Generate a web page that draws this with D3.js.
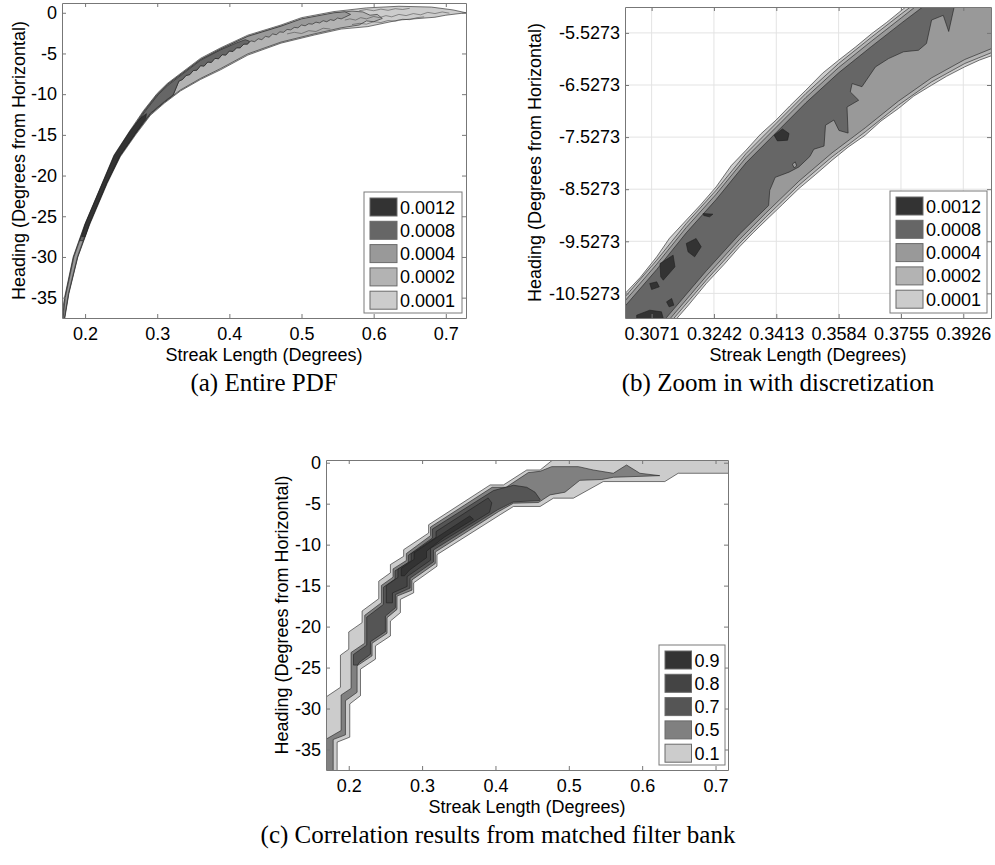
<!DOCTYPE html>
<html>
  <head>
    <meta http-equiv="Content-Type" content="text/html;charset=utf-8" />
    <title>Streak length vs heading contour plots</title>
    <script type="text/javascript" src="https://d3js.org/d3.v7.min.js"></script>
    <style>
      body { margin: 0; background: #fff; }
      svg text { font-family: "Liberation Sans", Arial, sans-serif; fill: #000; }
      svg text.caption { font-family: "Liberation Serif", "Times New Roman", serif; }
    </style>
  </head>
  <body>
    <div id="figure"></div>

    <script type="text/javascript">
      // ---- legend levels / colours
      const pdfLevels = ["0.0012", "0.0008", "0.0004", "0.0002", "0.0001"];
      const pdfColors = ["#333333", "#666666", "#999999", "#b3b3b3", "#cccccc"];
      const corrLevels = ["0.9", "0.8", "0.7", "0.5", "0.1"];
      const corrColors = ["#333333", "#444444", "#555555", "#808080", "#cccccc"];

      // ---- tick values
      const fullXTicks = [0.2, 0.3, 0.4, 0.5, 0.6, 0.7];
      const fullYTicks = [0, -5, -10, -15, -20, -25, -30, -35];
      const zoomXTicks = [0.3071, 0.3242, 0.3413, 0.3584, 0.3755, 0.3926];
      const zoomYTicks = [-5.5273, -6.5273, -7.5273, -8.5273, -9.5273, -10.5273];

      // ---- (a) entire PDF, contour regions [streak length, heading]
      const pdfBand0001 = [
        [0.165, -38], [0.168, -37], [0.1715, -35], [0.1835, -30], [0.1995, -26], [0.221, -21.5],
        [0.24, -17.5], [0.262, -14.5], [0.2812, -12], [0.3, -9.9], [0.3138, -8.7], [0.36, -5.6], [0.388, -4.3],
        [0.4256, -2.75], [0.4716, -1.5], [0.5, -0.6], [0.545, 0.15], [0.59, 0.6], [0.635, 0.8],
        [0.68, 0.7], [0.71, 0.35], [0.728, 0],
        [0.7, -0.3], [0.685, -0.55], [0.6345, -0.9], [0.592, -1.7], [0.555, -2.0], [0.5175, -2.74],
        [0.4716, -3.73], [0.4256, -5.2], [0.388, -7.0], [0.36, -8.2], [0.3323, -9.6], [0.31, -11.1],
        [0.2905, -12.6], [0.27, -15], [0.2487, -17.7], [0.2305, -21], [0.2065, -26], [0.19, -30],
        [0.1775, -34.5], [0.171, -38]
      ];
      const pdfBand0002 = [
        [0.168, -38], [0.172, -35], [0.184, -30], [0.2, -26], [0.2215, -21.5], [0.2405, -17.6],
        [0.2625, -14.6], [0.2815, -12.1], [0.3, -10.0], [0.314, -8.8], [0.36, -5.75], [0.388, -4.45], [0.4256, -2.9],
        [0.4716, -1.65], [0.5, -0.8], [0.545, -0.05], [0.57, 0.2], [0.585, 0.1], [0.595, -0.3],
        [0.605, -0.2], [0.612, -0.7], [0.6, -1.1], [0.59, -1.0], [0.58, -1.5], [0.555, -1.85],
        [0.5175, -2.6], [0.4716, -3.6], [0.4256, -5.05], [0.388, -6.85], [0.36, -8.07], [0.3323, -9.48],
        [0.31, -10.97], [0.2905, -12.45], [0.27, -14.85], [0.2487, -17.55], [0.2303, -20.9],
        [0.2062, -25.9], [0.1897, -30], [0.1772, -34.5], [0.1706, -38]
      ];
      const pdfBand0004 = [
        [0.169, -38], [0.1725, -35], [0.1845, -30], [0.2005, -26], [0.222, -21.5], [0.241, -17.6],
        [0.263, -14.6], [0.282, -12.1], [0.3005, -10.05], [0.3145, -8.8], [0.36, -5.75], [0.388, -4.45], [0.4256, -2.9],
        [0.4716, -1.65], [0.5, -0.75], [0.545, 0.0], [0.56, 0.12], [0.568, -0.2],
        [0.56, -0.55], [0.555, -0.75], [0.55, -0.65], [0.545, -0.95], [0.54, -0.85], [0.535, -1.1],
        [0.53, -0.98], [0.525, -1.25], [0.52, -1.15], [0.515, -1.4], [0.51, -1.35], [0.505, -1.6],
        [0.5, -1.5], [0.495, -1.85], [0.49, -1.8], [0.485, -2.1], [0.48, -2.05], [0.475, -2.4],
        [0.47, -2.35], [0.465, -2.7], [0.46, -2.6], [0.455, -3.0], [0.45, -2.9], [0.445, -3.3],
        [0.44, -3.2], [0.435, -3.55], [0.43, -3.45], [0.425, -3.85], [0.42, -3.85], [0.415, -4.3],
        [0.41, -4.3], [0.405, -4.75], [0.4, -4.7], [0.395, -5.2], [0.39, -5.15], [0.385, -5.65],
        [0.38, -5.6], [0.375, -6.1], [0.37, -6.05], [0.365, -6.55], [0.36, -6.5], [0.355, -7.05],
        [0.35, -7.1], [0.345, -7.6], [0.34, -7.7], [0.335, -8.2], [0.33, -8.4],
        [0.322, -10.15], [0.31, -10.97], [0.2905, -12.42], [0.27, -14.82], [0.2487, -17.5], [0.2303, -20.85],
        [0.206, -25.85], [0.1893, -30], [0.1769, -34.5], [0.1703, -38]
      ];
      const pdfBand0008 = [
        [0.1925, -28], [0.2009, -26], [0.2224, -21.5], [0.2414, -17.7], [0.2634, -14.7],
        [0.2824, -12.2], [0.301, -10.1], [0.315, -8.9], [0.36, -5.85], [0.388, -4.55], [0.41, -3.7], [0.422, -3.3],
        [0.428, -3.5], [0.425, -3.85], [0.42, -3.85], [0.415, -4.3], [0.41, -4.3], [0.405, -4.75],
        [0.4, -4.7], [0.395, -5.2], [0.39, -5.15], [0.385, -5.65], [0.38, -5.6], [0.375, -6.1],
        [0.37, -6.05], [0.365, -6.55], [0.36, -6.5], [0.355, -7.05], [0.35, -7.1], [0.345, -7.6],
        [0.34, -7.7], [0.335, -8.2], [0.33, -8.4],
        [0.322, -10.1], [0.31, -10.9], [0.2905, -12.35], [0.27, -14.75], [0.2487, -17.45], [0.2302, -20.8],
        [0.2058, -25.8], [0.1975, -28]
      ];
      const pdfBand0012 = [
        [0.1955, -27.5], [0.2, -26], [0.2215, -21.5], [0.2405, -17.5], [0.2625, -14.5],
        [0.276, -13.0], [0.285, -12.4], [0.284, -13.0], [0.2685, -15], [0.2475, -17.7],
        [0.2295, -21], [0.2058, -26], [0.2, -27.5]
      ];
      // small noisy contour lines in the light right-hand part
      const pdfNoise = [
        [[0.56, -0.9], [0.567, -0.75], [0.575, -0.9], [0.582, -0.6], [0.59, -0.75], [0.6, -0.45],
         [0.608, -0.6], [0.617, -0.35], [0.625, -0.5], [0.635, -0.2], [0.645, -0.35], [0.655, -0.1],
         [0.665, -0.25], [0.675, 0.05], [0.685, -0.1], [0.695, 0.1], [0.705, -0.05]],
        [[0.57, -1.45], [0.58, -1.3], [0.59, -1.4], [0.6, -1.1], [0.61, -1.2], [0.62, -0.95],
         [0.63, -1.05], [0.64, -0.8], [0.65, -0.85], [0.66, -0.6], [0.67, -0.5]],
        [[0.58, 0.25], [0.59, 0.4], [0.6, 0.25], [0.61, 0.45], [0.62, 0.3], [0.63, 0.5], [0.64, 0.4],
         [0.65, 0.55]],
        [[0.48, -2.6], [0.49, -2.4], [0.5, -2.55], [0.51, -2.2], [0.52, -2.3], [0.53, -1.9], [0.54, -2.0]]
      ];

      // ---- (b) zoom with discretization
      const zoomBand0001 = [
        [0.29, -11.3], [0.2957, -10.978], [0.2998, -10.53], [0.304, -10.22], [0.3085, -9.826],
        [0.312, -9.47], [0.3166, -9.122], [0.3205, -8.83], [0.3248, -8.483], [0.329, -8.07],
        [0.333, -7.779], [0.337, -7.47], [0.3412, -7.203], [0.345, -6.93], [0.3494, -6.627],
        [0.354, -6.3], [0.3584, -6.051], [0.363, -5.8], [0.3675, -5.54], [0.3715, -5.33],
        [0.3757, -5.092], [0.3803, -4.836], [0.41, -4.8],
        [0.402, -5.923], [0.397, -6.05], [0.393, -6.179], [0.388, -6.36], [0.3839, -6.531],
        [0.379, -6.74], [0.3748, -6.979], [0.37, -7.22], [0.3657, -7.491], [0.361, -7.72],
        [0.3566, -7.971], [0.352, -8.25], [0.3475, -8.515], [0.343, -8.82], [0.3385, -9.122],
        [0.335, -9.36], [0.3312, -9.634], [0.327, -9.97], [0.3221, -10.338], [0.317, -10.77],
        [0.3112, -11.234]
      ];
      const zoomBand0002 = [
        [0.29, -11.35], [0.2957, -11.042], [0.2998, -10.594], [0.3085, -9.89], [0.3166, -9.186],
        [0.3248, -8.547], [0.333, -7.843], [0.3412, -7.267], [0.3494, -6.691], [0.3584, -6.115],
        [0.3675, -5.604], [0.3757, -5.156], [0.3825, -4.8], [0.41, -4.8],
        [0.402, -5.859], [0.393, -6.115], [0.3839, -6.467], [0.3748, -6.915], [0.3657, -7.427],
        [0.3566, -7.907], [0.3475, -8.451], [0.3385, -9.058], [0.3312, -9.57], [0.3221, -10.274],
        [0.3112, -11.17], [0.309, -11.35]
      ];
      const zoomBand0004 = [
        [0.29, -11.4], [0.2957, -11.119], [0.2998, -10.671], [0.3085, -9.967], [0.3166, -9.263],
        [0.3248, -8.624], [0.333, -7.92], [0.3412, -7.344], [0.3494, -6.768], [0.3584, -6.192],
        [0.3675, -5.681], [0.3757, -5.233], [0.3835, -4.8], [0.41, -4.8],
        [0.402, -5.782], [0.393, -6.038], [0.3839, -6.39], [0.3748, -6.838], [0.3657, -7.35],
        [0.3566, -7.83], [0.3475, -8.374], [0.3385, -8.981], [0.3312, -9.493], [0.3221, -10.197],
        [0.3112, -11.093], [0.308, -11.4]
      ];
      const zoomBand0008 = [
        [0.29, -11.5], [0.2957, -11.221], [0.2998, -10.773], [0.3085, -10.069], [0.3166, -9.365],
        [0.3248, -8.726], [0.333, -8.022], [0.3412, -7.446], [0.3494, -6.87], [0.3584, -6.294],
        [0.3675, -5.783], [0.3757, -5.335], [0.3827, -4.964], [0.3846, -4.8],
        [0.3921, -4.8], [0.3901, -5.03], [0.3886, -5.5], [0.3871, -5.19], [0.3839, -5.28],
        [0.3825, -5.73], [0.3803, -5.86], [0.3762, -5.89], [0.3721, -6.02], [0.3685, -6.18],
        [0.3648, -6.56], [0.3621, -6.5], [0.3616, -6.66], [0.3639, -6.82], [0.3607, -6.95],
        [0.361, -7.45], [0.3585, -7.4], [0.3571, -7.2], [0.3548, -7.3], [0.3544, -7.7],
        [0.3516, -7.76], [0.3505, -7.9], [0.3475, -8.1], [0.3448, -8.2], [0.341, -8.3],
        [0.3395, -8.55], [0.3392, -8.84],
        [0.3312, -9.391], [0.3221, -10.095], [0.3112, -10.991], [0.307, -11.5]
      ];
      const zoomIslands0004 = [
        [[0.3457, -8.047], [0.3465, -8.003], [0.3469, -8.08], [0.3462, -8.118]]
      ];
      const zoomBlobs0012 = [
        [[0.3407, -7.491], [0.343, -7.37], [0.3448, -7.459], [0.3444, -7.587], [0.3416, -7.6]],
        [[0.3212, -8.994], [0.3239, -9.007], [0.323, -9.058], [0.3214, -9.033]],
        [[0.3166, -9.57], [0.3193, -9.474], [0.3207, -9.634], [0.3189, -9.826], [0.3171, -9.73]],
        [[0.3094, -9.954], [0.313, -9.794], [0.3135, -10.018], [0.3103, -10.274], [0.3096, -10.21]],
        [[0.3066, -10.338], [0.3085, -10.306], [0.3092, -10.402], [0.3071, -10.453]],
        [[0.3112, -10.69], [0.3126, -10.626], [0.3132, -10.754], [0.3119, -10.786]],
        [[0.303, -10.946], [0.3066, -10.85], [0.3098, -10.882], [0.3103, -11.01], [0.303, -11.042]]
      ];

      // ---- (c) correlation results from matched filter bank
      const corrBand01 = [
        [0.1615, -38], [0.1615, -29.04], [0.1887, -27.41], [0.1887, -23.49], [0.2, -22.76], [0.2, -20.65],
        [0.2182, -19.52], [0.2182, -18.1], [0.2409, -16.6], [0.2409, -14.46], [0.2568, -13.44],
        [0.2568, -12.43], [0.2749, -11.42], [0.2749, -10.61], [0.3089, -8.58], [0.3089, -7.57],
        [0.3928, -2.71], [0.411, -2.71], [0.4427, -0.89], [0.4609, -0.89], [0.479, 0.41], [0.479, 1.2],
        [0.73, 1.2], [0.73, -1.29], [0.6491, -1.29], [0.6309, -2.3], [0.547, -2.3], [0.5062, -4.33],
        [0.479, -4.33], [0.4609, -5.34], [0.4246, -5.34], [0.4064, -6.35], [0.3203, -11.22],
        [0.3203, -12.63], [0.2885, -14.66], [0.2885, -15.87], [0.2704, -16.68], [0.2704, -18.3],
        [0.2568, -19.32], [0.2568, -21.14], [0.2364, -22.35], [0.2364, -23.97], [0.216, -25.19],
        [0.216, -28.43], [0.2014, -29.44], [0.2014, -33.49], [0.1842, -34.1], [0.1842, -38]
      ];
      const corrBand05 = [
        [0.166, -38], [0.166, -33.9], [0.1896, -32.68], [0.1896, -28.35], [0.2032, -27.54],
        [0.2032, -23.16], [0.2218, -22.03], [0.2218, -18.63], [0.2445, -17.09], [0.2445, -14.98],
        [0.2604, -13.97], [0.2604, -12.96], [0.2785, -11.94], [0.2785, -11.09], [0.3115, -8.9],
        [0.3115, -7.85], [0.3955, -3.0], [0.4145, -3.0], [0.4449, -1.2], [0.4609, -1.05],
        [0.4767, -0.48], [0.513, -0.48], [0.5334, -0.89], [0.5607, -1.29], [0.5787, -0.28],
        [0.5969, -1.29], [0.624, -1.58],
        [0.5607, -1.78], [0.545, -2.05], [0.515, -2.15], [0.4948, -3.6], [0.4744, -3.93],
        [0.4586, -4.86], [0.4246, -4.94], [0.4045, -5.95], [0.318, -10.9], [0.318, -12.3],
        [0.2862, -14.3], [0.2862, -15.55], [0.2658, -16.28], [0.2658, -17.9], [0.2522, -18.91],
        [0.2522, -20.81], [0.2318, -22.03], [0.2318, -23.57], [0.2114, -24.78], [0.2114, -28.02],
        [0.1955, -29.04], [0.1955, -33.21], [0.1788, -33.78], [0.1788, -38]
      ];
      const corrBand07 = [
        [0.2065, -24.7], [0.2065, -23.4], [0.2245, -22.25], [0.2245, -18.85], [0.2472, -17.3],
        [0.2472, -15.2], [0.2631, -14.2], [0.2631, -13.2], [0.2812, -12.17], [0.2812, -11.3],
        [0.314, -9.2], [0.314, -8.1], [0.3973, -3.4], [0.4246, -2.75], [0.4427, -3.0],
        [0.454, -3.6], [0.4609, -4.5],
        [0.46, -4.62], [0.4246, -4.78], [0.4028, -5.75], [0.3155, -10.65], [0.3155, -12.1],
        [0.2836, -14.1], [0.2836, -15.3], [0.2636, -16.1], [0.2636, -17.7], [0.25, -18.72],
        [0.25, -20.62], [0.2296, -21.84], [0.2296, -23.38], [0.214, -24.4], [0.212, -24.7]
      ];
      const corrBand08 = [
        [0.2512, -17.1], [0.2512, -15.0], [0.2671, -14.0], [0.2671, -13.0], [0.2852, -11.95],
        [0.2852, -11.1], [0.319, -9.1], [0.319, -8.4], [0.39, -4.3], [0.395, -4.9], [0.392, -6.05],
        [0.3115, -10.45], [0.3115, -11.9], [0.2796, -13.9], [0.2796, -15.1], [0.2596, -15.9],
        [0.2596, -17.1]
      ];
      const corrBand09 = [
        [[0.2715, -13.8], [0.2715, -12.9], [0.289, -11.8], [0.289, -11.0], [0.322, -9.0],
         [0.365, -6.5], [0.37, -6.9], [0.33, -9.1], [0.306, -10.8], [0.306, -11.6], [0.283, -13.1],
         [0.276, -13.8]]
      ];

      var svg = d3
        .select("#figure")
        .append("svg")
        .attr("width", 995)
        .attr("height", 865);

      var contourLine = d3.line();

      function drawPanel(p) {
        var f = p.frame;
        var x = d3.scaleLinear().domain(p.xDomain).range([f.left, f.right]);
        var y = d3.scaleLinear().domain(p.yDomain).range([f.bottom, f.top]);
        contourLine.x(d => x(d[0])).y(d => y(d[1]));

        svg
          .append("clipPath")
          .attr("id", p.id + "-clip")
          .append("rect")
          .attr("x", f.left)
          .attr("y", f.top)
          .attr("width", f.right - f.left)
          .attr("height", f.bottom - f.top);

        var g = svg.append("g").attr("class", p.id);

        // light grid (zoomed panel only)
        if (p.grid) {
          g.selectAll(".gx")
            .data(p.xTicks)
            .join("line")
            .attr("x1", d => x(d)).attr("x2", d => x(d))
            .attr("y1", f.top).attr("y2", f.bottom)
            .attr("stroke", "#e3e3e3");
          g.selectAll(".gy")
            .data(p.yTicks)
            .join("line")
            .attr("y1", d => y(d)).attr("y2", d => y(d))
            .attr("x1", f.left).attr("x2", f.right)
            .attr("stroke", "#e3e3e3");
        }

        var plot = g.append("g").attr("clip-path", "url(#" + p.id + "-clip)");
        p.layers.forEach(layer => {
          layer.polys.forEach(poly => {
            plot
              .append("path")
              .attr("d", contourLine(poly) + "Z")
              .attr("fill", layer.color)
              .attr("stroke", "#1e1e1e")
              .attr("stroke-width", 0.6)
              .attr("stroke-linejoin", "round");
          });
        });
        (p.lines || []).forEach(l => {
          plot
            .append("path")
            .attr("d", contourLine(l))
            .attr("fill", "none")
            .attr("stroke", "#3a3a3a")
            .attr("stroke-width", 0.5);
        });

        // axes, ticks pointing inwards on all four sides
        var fmt = d => String(d);
        var axes = [
          { ax: d3.axisBottom(x).tickValues(p.xTicks).tickFormat(fmt).tickPadding(9), t: "translate(0," + f.bottom + ")" },
          { ax: d3.axisTop(x).tickValues(p.xTicks).tickFormat(""), t: "translate(0," + f.top + ")" },
          { ax: d3.axisLeft(y).tickValues(p.yTicks).tickFormat(fmt).tickPadding(5), t: "translate(" + f.left + ",0)" },
          { ax: d3.axisRight(y).tickValues(p.yTicks).tickFormat(""), t: "translate(" + f.right + ",0)" }
        ];
        axes.forEach(a => {
          var ag = g
            .append("g")
            .attr("transform", a.t)
            .call(a.ax.tickSizeInner(-4).tickSizeOuter(0));
          ag.select(".domain").attr("stroke", "#777");
          ag.selectAll(".tick line").attr("stroke", "#777");
          ag.selectAll("text")
            .attr("font-family", "Liberation Sans, Arial, sans-serif")
            .attr("font-size", 18)
            .attr("fill", "#000");
        });

        // axis titles
        g.append("text")
          .attr("x", (f.left + f.right) / 2)
          .attr("y", f.bottom + 43)
          .attr("text-anchor", "middle")
          .attr("font-size", 18)
          .text("Streak Length (Degrees)");
        g.append("text")
          .attr("transform", "translate(" + p.yTitleX + "," + (f.top + f.bottom) / 2 + ") rotate(-90)")
          .attr("text-anchor", "middle")
          .attr("font-size", 18)
          .text("Heading (Degrees from Horizontal)");

        // legend
        var lg = p.legend;
        var leg = g.append("g");
        leg.append("rect")
          .attr("x", lg.x).attr("y", lg.y)
          .attr("width", lg.w).attr("height", lg.h)
          .attr("fill", "#fff")
          .attr("stroke", "#7a7a7a");
        lg.labels.forEach((lab, i) => {
          var top = lg.y + 6 + i * 23.3;
          leg.append("rect")
            .attr("x", lg.x + 6).attr("y", top)
            .attr("width", lg.sw).attr("height", 18)
            .attr("fill", lg.colors[i])
            .attr("stroke", "#6a6a6a");
          leg.append("text")
            .attr("x", lg.x + 9 + lg.sw)
            .attr("y", top + 15.5)
            .attr("font-size", 18)
            .text(lab);
        });

        // caption
        svg.append("text")
          .attr("class", "caption")
          .attr("x", p.caption.x)
          .attr("y", p.caption.y)
          .attr("text-anchor", "middle")
          .attr("font-size", 25)
          .text(p.caption.text);
      }

      drawPanel({
        id: "pdf",
        frame: { left: 62, right: 466, top: 3, bottom: 318 },
        xDomain: [0.168, 0.728],
        yDomain: [-37.5, 1.2],
        xTicks: fullXTicks,
        yTicks: fullYTicks,
        layers: [
          { color: pdfColors[4], polys: [pdfBand0001] },
          { color: pdfColors[3], polys: [pdfBand0002] },
          { color: pdfColors[2], polys: [pdfBand0004] },
          { color: pdfColors[1], polys: [pdfBand0008] },
          { color: pdfColors[0], polys: [pdfBand0012] }
        ],
        lines: pdfNoise,
        yTitleX: 25,
        legend: { x: 364, y: 192, w: 98, h: 121, sw: 27, labels: pdfLevels, colors: pdfColors },
        caption: { x: 264, y: 391, text: "(a) Entire PDF" }
      });

      drawPanel({
        id: "zoom",
        frame: { left: 625, right: 991, top: 7, bottom: 318 },
        xDomain: [0.2998, 0.4002],
        yDomain: [-11.0, -5.03],
        xTicks: zoomXTicks,
        yTicks: zoomYTicks,
        grid: true,
        layers: [
          { color: pdfColors[4], polys: [zoomBand0001] },
          { color: pdfColors[3], polys: [zoomBand0002] },
          { color: pdfColors[2], polys: [zoomBand0004] },
          { color: pdfColors[1], polys: [zoomBand0008] },
          { color: pdfColors[2], polys: zoomIslands0004 },
          { color: pdfColors[0], polys: zoomBlobs0012 }
        ],
        yTitleX: 541,
        legend: { x: 890, y: 191, w: 97, h: 122, sw: 27, labels: pdfLevels, colors: pdfColors },
        caption: { x: 778, y: 391, text: "(b) Zoom in with discretization" }
      });

      drawPanel({
        id: "corr",
        frame: { left: 326, right: 728, top: 460, bottom: 770 },
        xDomain: [0.169, 0.717],
        yDomain: [-37.5, 0.33],
        xTicks: fullXTicks,
        yTicks: fullYTicks,
        layers: [
          { color: corrColors[4], polys: [corrBand01] },
          { color: corrColors[3], polys: [corrBand05] },
          { color: corrColors[2], polys: [corrBand07] },
          { color: corrColors[1], polys: [corrBand08] },
          { color: corrColors[0], polys: corrBand09 }
        ],
        yTitleX: 288,
        legend: { x: 659, y: 645, w: 66, h: 120, sw: 26.5, labels: corrLevels, colors: corrColors },
        caption: { x: 498, y: 843, text: "(c) Correlation results from matched filter bank" }
      });
    </script>
  </body>
</html>
